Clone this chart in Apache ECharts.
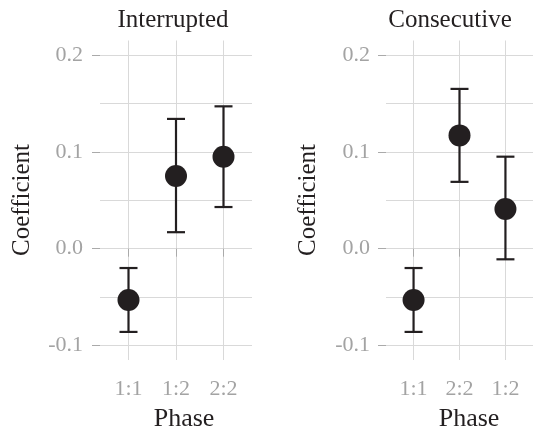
<!DOCTYPE html>
<html>
<head>
<meta charset="utf-8">
<script src="https://cdn.jsdelivr.net/npm/echarts@6/dist/echarts.min.js"></script>
<style>html,body{margin:0;padding:0;background:#fff}#c{width:533px;height:431px}</style>
</head>
<body>
<div id="c"></div>
<script>
// ---- data ----
var leftCats = ['1:1', '1:2', '2:2'];
var leftEst = [-0.053, 0.075, 0.095];
var leftLow = [-0.086, 0.017, 0.043];
var leftHigh = [-0.020, 0.134, 0.147];

var rightCats = ['1:1', '2:2', '1:2'];
var rightEst = [-0.053, 0.117, 0.041];
var rightLow = [-0.086, 0.069, -0.011];
var rightHigh = [-0.020, 0.165, 0.095];

var yMajor = [-0.1, 0.0, 0.1, 0.2];
var yMinor = [-0.1, -0.05, 0.0, 0.05, 0.1, 0.15, 0.2];
var panelTitles = ['Interrupted', 'Consecutive'];
var xTitle = 'Phase';
var yTitle = 'Coefficient';

// ---- styles ----
var FONT = '"Liberation Serif", "Times New Roman", serif';
var INK = '#231f20';
var GRID = '#d9d9d9';
var TICKTXT = '#a3a3a3';
var YMIN = -0.115, YMAX = 0.215;

var grids = [
  {left: 100, top: 40.5, width: 152, height: 319.5},
  {left: 386, top: 40.5, width: 152, height: 319.5}
];

function xAxisFor(gi, cats) {
  return {
    type: 'value', gridIndex: gi, min: 0.4, max: 3.6,
    axisLine: {show: false},
    axisTick: {show: true, customValues: [1, 2, 3], length: 8, lineStyle: {color: '#aaaaaa', width: 1}},
    axisLabel: {customValues: [1, 2, 3], margin: 18, color: TICKTXT, fontFamily: FONT, fontSize: 22,
      formatter: function (v) { return cats[Math.round(v) - 1]; }},
    splitLine: {show: true, lineStyle: {color: GRID, width: 1}}
  };
}
function yAxisMajor(gi, margin) {
  return {
    type: 'value', gridIndex: gi, min: YMIN, max: YMAX, position: 'left',
    axisLine: {show: false},
    axisTick: {show: true, customValues: yMajor, length: 8, lineStyle: {color: '#aaaaaa', width: 1}},
    axisLabel: {customValues: yMajor, margin: margin, color: TICKTXT, fontFamily: FONT, fontSize: 22,
      formatter: function (v) { return v.toFixed(1); }},
    splitLine: {show: false}
  };
}
function yAxisGrid(gi) {
  return {
    type: 'value', gridIndex: gi, min: YMIN, max: YMAX, position: 'right',
    axisLine: {show: false},
    axisTick: {show: false, customValues: yMinor},
    axisLabel: {show: false},
    splitLine: {show: true, lineStyle: {color: GRID, width: 1}}
  };
}

function errSeries(xi, yi, low, high) {
  var data = low.map(function (l, i) { return [i + 1, l, high[i]]; });
  return {
    type: 'custom', xAxisIndex: xi, yAxisIndex: yi, z: 2, silent: true,
    data: data,
    encode: {x: 0, y: [1, 2]},
    renderItem: function (params, api) {
      var x = api.value(0);
      var p1 = api.coord([x, api.value(1)]);
      var p2 = api.coord([x, api.value(2)]);
      var hw = 9;
      var st = {stroke: INK, lineWidth: 2.2};
      return {type: 'group', children: [
        {type: 'line', shape: {x1: p1[0], y1: p1[1], x2: p2[0], y2: p2[1]}, style: st},
        {type: 'line', shape: {x1: p1[0] - hw, y1: p1[1], x2: p1[0] + hw, y2: p1[1]}, style: st},
        {type: 'line', shape: {x1: p2[0] - hw, y1: p2[1], x2: p2[0] + hw, y2: p2[1]}, style: st}
      ]};
    }
  };
}
function ptSeries(xi, yi, est) {
  return {
    type: 'scatter', xAxisIndex: xi, yAxisIndex: yi, z: 3, silent: true,
    symbol: 'circle', symbolSize: 22,
    itemStyle: {color: INK, opacity: 1},
    data: est.map(function (v, i) { return [i + 1, v]; })
  };
}

function txt(t, x, y, size, rot) {
  return {type: 'text', x: x, y: y, rotation: rot || 0, silent: true,
    style: {text: t, font: size + 'px ' + FONT, fill: INK, align: 'center', verticalAlign: 'middle'}};
}

var chart = echarts.init(document.getElementById('c'), null, {renderer: 'canvas'});
chart.setOption({
  animation: false,
  backgroundColor: '#ffffff',
  grid: grids,
  xAxis: [xAxisFor(0, leftCats), xAxisFor(1, rightCats)],
  yAxis: [yAxisMajor(0, 17), yAxisGrid(0), yAxisMajor(1, 16), yAxisGrid(1)],
  series: [
    errSeries(0, 0, leftLow, leftHigh),
    ptSeries(0, 0, leftEst),
    errSeries(1, 2, rightLow, rightHigh),
    ptSeries(1, 2, rightEst)
  ],
  graphic: [
    txt(panelTitles[0], 173, 20, 25),
    txt(panelTitles[1], 450, 20, 25),
    txt(yTitle, 22, 200, 25, Math.PI / 2),
    txt(yTitle, 308, 200, 25, Math.PI / 2),
    txt(xTitle, 184, 419, 26),
    txt(xTitle, 469, 419, 26)
  ]
});
</script>
</body>
</html>
